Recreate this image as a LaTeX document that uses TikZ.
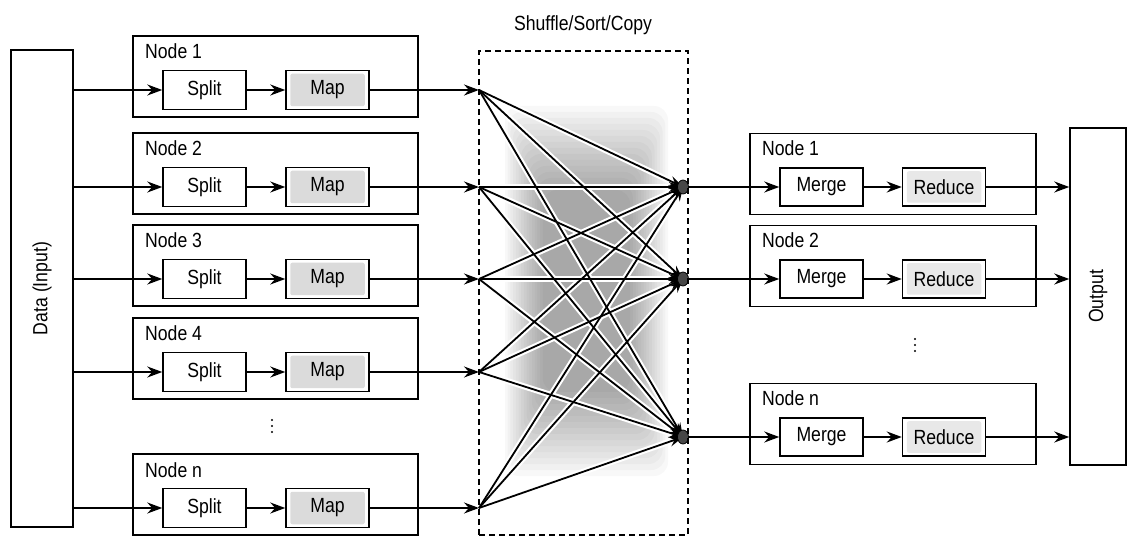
\documentclass[tikz,border=0pt]{standalone}
\usepackage{fontspec}
\setmainfont{Liberation Sans}[FakeStretch=0.86]
\usetikzlibrary{arrows.meta,shapes.geometric}
\begin{document}
\begin{tikzpicture}[x=1pt,y=-1pt,
  lbl/.style={font=\fontsize{20.5}{24}\selectfont, inner sep=0pt},
  outer/.style={draw, line width=1.5pt, minimum width=285pt, minimum height=81pt, inner sep=0pt},
  inbox/.style={draw, line width=1.5pt, minimum width=83pt, minimum height=39pt, inner sep=0pt, font=\fontsize{20.5}{24}\selectfont},
  flow/.style={line width=2pt, -{Stealth[length=15pt,width=11pt,inset=5pt]}},
  cross/.style={line width=1.8pt, -{Stealth[length=14pt,width=10pt,inset=5pt]}},
  halo/.style={line width=6pt, white},
  blob/.style={ellipse, fill=black!72, draw=black, line width=0.8pt, minimum width=11pt, minimum height=14pt, inner sep=0pt},
  vdot/.style={circle, fill=black, inner sep=0pt, minimum size=2.4pt}
]
\useasboundingbox (0,0) rectangle (1128,537);

% shuffle area background (soft grey)
\foreach \k in {0,...,14}{
  \fill[black, opacity=0.028, rounded corners=14pt] (505+2.7*\k,106+6*\k) rectangle (668-2.7*\k,476-6*\k);
}
\node[lbl] (title) at (583,25) {Shuffle/Sort/Copy};

% data input
\node[draw, line width=1.5pt, minimum width=62pt, minimum height=477pt, inner sep=0pt] (data) at (42,288.5) {};
\node[lbl, rotate=90] (datat) at (42,288.5) {Data (Input)};

% output
\node[draw, line width=1.5pt, minimum width=56pt, minimum height=337pt, inner sep=0pt] (out) at (1098,296.5) {};
\node[lbl, rotate=90] (outt) at (1098,296.5) {Output};

% left map nodes
\foreach \i/\y/\t in {1/90/Node 1, 2/187/Node 2, 3/279/Node 3, 4/372/Node 4, 5/508/Node n}{
  \node[outer] (ln\i) at (275.5,\y-13.5) {};
  \node[lbl, anchor=base west] (lt\i) at (145,\y-31) {\t};
  \node[inbox] (split\i) at (204.5,\y) {Split};
  \node[inbox] (map\i) at (327.5,\y) {};
  \fill[black!14, rounded corners=2pt] ([xshift=5pt,yshift=-4pt]map\i.north west) rectangle ([xshift=-5pt,yshift=4pt]map\i.south east);
  \node[lbl] (mapt\i) at (map\i) {Map};
  \coordinate (s\i) at (479,\y);
  \draw[flow] (data.east |- split\i) -- (split\i.west);
  \draw[flow] (split\i) -- (map\i);
  \draw[flow] (map\i) -- (s\i);
}
\foreach \k in {0,1,2}{\node[vdot] (ld\k) at (272,420+6*\k) {};}

% right reduce nodes
\foreach \i/\y/\t in {1/187/Node 1, 2/279/Node 2, 3/437/Node n}{
  \node[outer, minimum width=286pt] (rn\i) at (893,\y-13) {};
  \node[lbl, anchor=base west] (rt\i) at (762,\y-31) {\t};
  \node[inbox, minimum height=38pt] (merge\i) at (821.5,\y) {Merge};
  \node[inbox, minimum height=38pt] (red\i) at (944,\y) {};
  \fill[black!9, rounded corners=2pt] ([xshift=5pt,yshift=-4pt]red\i.north west) rectangle ([xshift=-5pt,yshift=4pt]red\i.south east);
  \node[lbl] (redt\i) at (red\i) {Reduce};
  \coordinate (d\i) at (683,\y);
}
\foreach \k in {0,1,2}{\node[vdot] (rd\k) at (915,339+6*\k) {};}

% crossing lines
\foreach \i in {1,...,5}{\foreach \j in {1,2,3}{
  \draw[halo] (s\i) -- (d\j);
}}
\foreach \i in {1,...,5}{\foreach \j in {1,2,3}{
  \draw[cross] (s\i) -- (d\j);
}}
\foreach \j in {1,2,3}{
  \node[blob] (b\j) at (d\j) {};
  \draw[flow] (b\j) -- (merge\j);
  \draw[flow] (merge\j) -- (red\j);
  \draw[flow] (red\j) -- (out.west |- red\j);
}

% dashed box
\node[draw, line width=1.2pt, dash pattern=on 6pt off 4pt, minimum width=209pt, minimum height=484pt, inner sep=0pt] (shuf) at (583.5,293) {};
\end{tikzpicture}
\end{document}
